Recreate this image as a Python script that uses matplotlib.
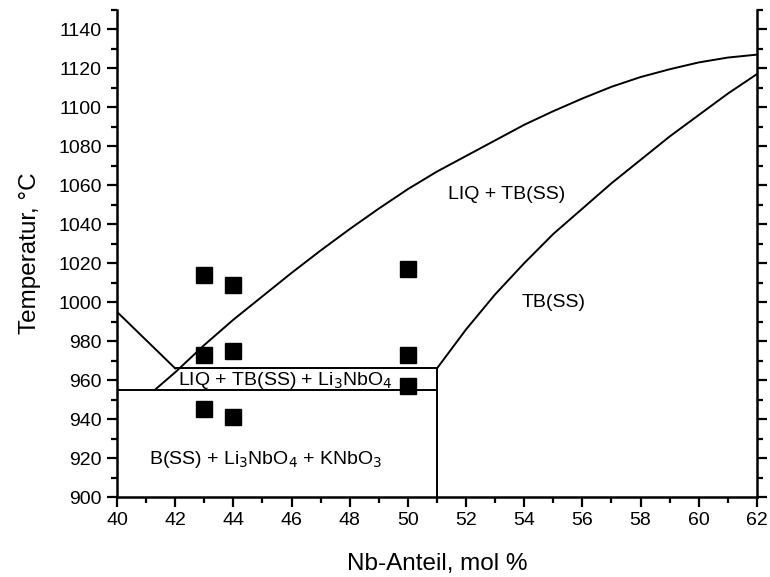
import matplotlib.pyplot as plt
from matplotlib.ticker import MultipleLocator

plt.rcParams['font.family'] = ['Liberation Sans', 'DejaVu Sans']

# measured points
meas_x = [43, 44, 50, 43, 44, 50, 43, 44, 50]
meas_t = [1014, 1009, 1017, 973, 975, 973, 945, 941, 957]

# liquidus LIQ / LIQ+TB(SS)
liq_x = [41.3, 42, 43, 44, 45, 46, 47, 48, 49, 50, 51, 52, 53, 54, 55, 56, 57, 58, 59, 60, 61, 62]
liq_t = [955, 964, 978, 991, 1003, 1015, 1026.5, 1037.5, 1048, 1058, 1067, 1075, 1083, 1091, 1098,
         1104.5, 1110.5, 1115.5, 1119.5, 1123, 1125.5, 1127]

# solidus TB(SS)
sol_x = [51, 52, 53, 54, 55, 56, 57, 58, 59, 60, 61, 62]
sol_t = [966, 986, 1004, 1020, 1035, 1048, 1061, 1073, 1085, 1096, 1107, 1117]

# left liquidus branch
left_x = [40, 42]
left_t = [995, 966]

# three-phase box
box_top_x = [42, 51]
box_top_t = [966, 966]
box_bot_x = [40, 51]
box_bot_t = [955, 955]
wall_x = [51, 51]
wall_t = [900, 966]

fig = plt.figure(figsize=(7.7, 5.77), dpi=100)
ax = fig.add_axes([0.152, 0.1386, 0.831, 0.8444])

lw = 1.4
for xs, ts in [(liq_x, liq_t), (sol_x, sol_t), (left_x, left_t),
               (box_top_x, box_top_t), (box_bot_x, box_bot_t), (wall_x, wall_t)]:
    ax.plot(xs, ts, color='black', lw=lw, solid_joinstyle='round')

ax.plot(meas_x, meas_t, 's', color='black', markersize=11, zorder=5)

fs = 14
ax.text(53.4, 1055, 'LIQ + TB(SS)', fontsize=fs, ha='center', va='center')
ax.text(55.0, 1000, 'TB(SS)', fontsize=fs, ha='center', va='center')
ax.text(45.8, 960, 'LIQ + TB(SS) + Li$_3$NbO$_4$', fontsize=fs, ha='center', va='center')
ax.text(45.1, 919, 'B(SS) + Li$_3$NbO$_4$ + KNbO$_3$', fontsize=fs, ha='center', va='center')

ax.set_xlim(40, 62)
ax.set_ylim(900, 1150)
ax.xaxis.set_major_locator(MultipleLocator(2))
ax.xaxis.set_minor_locator(MultipleLocator(1))
ax.yaxis.set_minor_locator(MultipleLocator(10))
ax.set_yticks(range(900, 1141, 20))

ax.spines['top'].set_visible(False)
for s in ['left', 'bottom', 'right']:
    ax.spines[s].set_linewidth(1.8)
ax.tick_params(which='both', direction='out', width=1.6, labelsize=14, right=True, labelright=False)
ax.tick_params(which='major', length=7, pad=4)
ax.tick_params(which='minor', length=4)

ax.set_xlabel('Nb-Anteil, mol %', fontsize=17.5, labelpad=17)
ax.set_ylabel('Temperatur, °C', fontsize=17.5, labelpad=12)

fig.savefig('out.png', dpi=100)
